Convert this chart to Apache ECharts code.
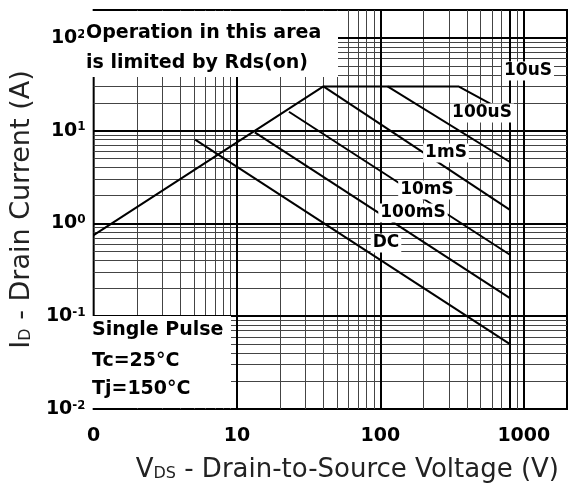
<!DOCTYPE html>
<html>
<head>
<meta charset="utf-8">
<title>Safe Operating Area</title>
<script src="https://cdn.jsdelivr.net/npm/echarts@6/dist/echarts.min.js"></script>
<style>
html, body { margin: 0; padding: 0; background: #fff; }
#chart { width: 570px; height: 488px; }
</style>
</head>
<body>
<div id="chart"></div>
<script>
// axes
const xDecades = [1, 10, 100, 1000];
const xTickLabels = ['0', '10', '100', '1000'];
const yDecades = [0.01, 0.1, 1, 10, 100];
const yTickExp = ['-2', '-1', '0', '1', '2'];
const xMax = 2000;
const yMax = 200;
const vdsBreakdown = 800;

// SOA curves: Vds (V) and Id (A)
const vds10us = [1, 40, 350, 800];
const id10us = [0.75, 30, 30, 15];
const vds100us = [112, 800];
const id100us = [30, 4.6];
const vds1ms = [40, 800];
const id1ms = [30, 1.4];
const vds10ms = [23, 800];
const id10ms = [16, 0.46];
const vds100ms = [13.3, 800];
const id100ms = [9.6, 0.157];
const vdsDC = [5.1, 800];
const idDC = [8, 0.05];

const FONT = '"DejaVu Sans", sans-serif';

function pts(vs, is) {
    return vs.map((v, i) => [v, is[i]]);
}

// log grid: 2..9 inside every decade
function minorValues(decades, max) {
    let out = [];
    decades.forEach((d) => {
        for (let m = 2; m <= 9; m++) {
            let v = +(d * m).toPrecision(6);
            if (v < max) out.push(v);
        }
    });
    return out;
}

const minorLines = [];
minorValues(xDecades, xMax).forEach((v) => minorLines.push({xAxis: v}));
minorValues(yDecades, yMax).forEach((v) => minorLines.push({yAxis: v}));

const majorLines = [];
xDecades.slice(1).forEach((v) => majorLines.push({xAxis: v}));
majorLines.push({xAxis: vdsBreakdown});
yDecades.slice(1).forEach((v) => majorLines.push({yAxis: v}));

function decadeIndex(list, v) {
    let e = Math.log10(v);
    if (Math.abs(e - Math.round(e)) > 1e-6) return -1;
    return list.findIndex((d) => Math.abs(Math.log10(d) - e) < 1e-6);
}

function curve(name, data) {
    return {
        name: name,
        type: 'line',
        data: data,
        symbol: 'none',
        z: 5,
        lineStyle: {color: '#000', width: 2},
        animation: false
    };
}

function curveLabel(text, x, y) {
    return {
        type: 'text', x: x, y: y, z: 120,
        style: {
            text: text,
            font: 'bold 17px ' + FONT,
            fill: '#000',
            align: 'center',
            verticalAlign: 'middle',
            backgroundColor: '#fff',
            padding: [1, 2]
        }
    };
}

function boxText(text, x, y) {
    return {
        type: 'text', x: x, y: y, z: 120,
        style: {
            text: text,
            font: 'bold 19px ' + FONT,
            fill: '#000',
            verticalAlign: 'middle'
        }
    };
}

const chart = echarts.init(document.getElementById('chart'), null, {renderer: 'canvas'});

const option = {
    backgroundColor: '#fff',
    animation: false,
    grid: {
        left: 83, right: 2, top: 10, bottom: 79,
        show: true,
        borderColor: '#000',
        borderWidth: 2,
        backgroundColor: 'transparent'
    },
    xAxis: {
        type: 'log',
        logBase: 10,
        min: 1,
        max: xMax,
        axisLine: {show: false},
        axisTick: {show: false},
        splitLine: {show: false},
        axisLabel: {
            margin: 18,
            color: '#000',
            fontFamily: FONT,
            fontWeight: 'bold',
            fontSize: 19,
            formatter: (v) => {
                let i = decadeIndex(xDecades, v);
                return i < 0 ? '' : xTickLabels[i];
            }
        },
        name: '{a|V}{s|DS}{a| - Drain-to-Source Voltage (V)}',
        nameLocation: 'middle',
        nameGap: 48,
        nameTextStyle: {
            padding: [0, 0, 0, 34],
            rich: {
                a: {fontFamily: FONT, fontSize: 26, color: '#222', verticalAlign: 'bottom'},
                s: {fontFamily: FONT, fontSize: 16, color: '#222', verticalAlign: 'bottom', padding: [0, 0, 1, 0]}
            }
        }
    },
    yAxis: {
        type: 'log',
        logBase: 10,
        min: 0.01,
        max: yMax,
        axisLine: {show: false},
        axisTick: {show: false},
        splitLine: {show: false},
        axisLabel: {
            margin: 8,
            color: '#000',
            formatter: (v) => {
                let i = decadeIndex(yDecades, v);
                return i < 0 ? '' : '{b|10}{s|' + yTickExp[i] + '}';
            },
            rich: {
                b: {fontFamily: FONT, fontWeight: 'bold', fontSize: 19, color: '#000', verticalAlign: 'bottom'},
                s: {fontFamily: FONT, fontWeight: 'bold', fontSize: 12, color: '#000', verticalAlign: 'top'}
            }
        },
        name: '{a|I}{s|D}{a| - Drain Current (A)}',
        nameLocation: 'middle',
        nameGap: 54,
        nameTextStyle: {
            rich: {
                a: {fontFamily: FONT, fontSize: 27, color: '#222', verticalAlign: 'bottom'},
                s: {fontFamily: FONT, fontSize: 16, color: '#222', verticalAlign: 'bottom', padding: [0, 0, 1, 0]}
            }
        }
    },
    series: [
        {
            name: 'minorGrid',
            type: 'line',
            data: [],
            z: 1,
            markLine: {
                silent: true,
                symbol: ['none', 'none'],
                label: {show: false},
                animation: false,
                lineStyle: {color: '#444', width: 1, type: 'solid'},
                data: minorLines
            }
        },
        {
            name: 'majorGrid',
            type: 'line',
            data: [],
            z: 2,
            markLine: {
                silent: true,
                symbol: ['none', 'none'],
                label: {show: false},
                animation: false,
                lineStyle: {color: '#000', width: 2, type: 'solid'},
                data: majorLines
            }
        },
        curve('10uS', pts(vds10us, id10us)),
        curve('100uS', pts(vds100us, id100us)),
        curve('1mS', pts(vds1ms, id1ms)),
        curve('10mS', pts(vds10ms, id10ms)),
        curve('100mS', pts(vds100ms, id100ms)),
        curve('DC', pts(vdsDC, idDC))
    ],
    graphic: [
        // white boxes behind the notes
        {type: 'rect', z: 110, shape: {x: 84, y: 11, width: 254, height: 66}, style: {fill: '#fff'}},
        {type: 'rect', z: 110, shape: {x: 84, y: 316, width: 147, height: 92}, style: {fill: '#fff'}},
        boxText('Operation in this area', 86, 33),
        boxText('is limited by Rds(on)', 86, 63),
        boxText('Single Pulse', 92, 330),
        boxText('Tc=25°C', 92, 361),
        boxText('Tj=150°C', 92, 389),
        curveLabel('10uS', 528, 71),
        curveLabel('100uS', 482, 113),
        curveLabel('1mS', 446, 153),
        curveLabel('10mS', 427, 190),
        curveLabel('100mS', 413, 213),
        curveLabel('DC', 386, 243)
    ]
};

chart.setOption(option);
</script>
</body>
</html>
